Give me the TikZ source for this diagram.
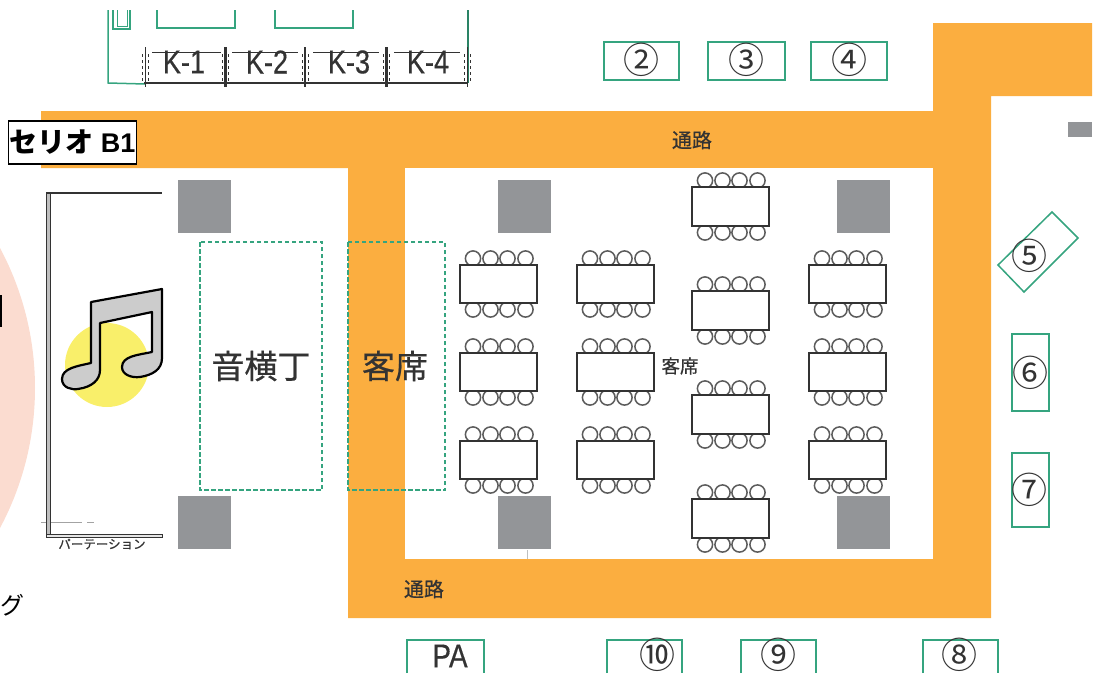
\documentclass[tikz,border=0pt]{standalone}
\usepackage{fontspec}
\setmainfont{Liberation Sans}
\newfontfamily\cjk[FakeBold=0.6]{Noto Sans CJK JP}
\newfontfamily\cjkplain{Noto Sans CJK JP}
\newfontfamily\narrowsans[FakeBold=0.5]{Liberation Sans}
\definecolor{aisle}{HTML}{FBAE40}
\definecolor{pillar}{HTML}{939598}
\definecolor{booth}{HTML}{35A47F}
\definecolor{glow}{HTML}{FBDCD0}
\definecolor{spot}{HTML}{F9EF6A}
\definecolor{ink}{HTML}{333333}
\tikzset{
    boothbox/.style = {draw = booth, line width = 1.5pt},
    dashbox/.style = {draw = booth, line width = 1.1pt, dash pattern = on 4.5pt off 2.5pt},
    boothnum/.style = {font = \cjkplain\fontsize{36}{36}\selectfont, text = ink, inner sep = 0pt},
    cjklabel/.style = {font = \cjk\fontsize{20}{20}\selectfont, text = ink, inner sep = 0pt},
    biglabel/.style = {font = \cjk\fontsize{33}{33}\selectfont, text = ink, inner sep = 0pt},
    klabel/.style = {font = \narrowsans\fontsize{33}{33}\selectfont, text = ink, inner sep = 0pt, xscale = 0.82},
    chair/.style = {draw = ink!80, line width = 1.5pt, fill = white},
    desk/.style = {draw = ink, line width = 1.5pt, fill = white}
}
\begin{document}
\begin{tikzpicture}[x = 1pt, y = -1pt]
    \useasboundingbox (0, 0) rectangle (1099, 673);
    % left side
    \fill[glow] (-262, 388) circle (297);
    \draw[black, line width = 1.6pt] (1, 295) -- (1, 327);
    \node[font = \cjkplain\fontsize{24}{24}\selectfont, inner sep = 0pt, anchor = east] (gu) at (25, 605) {グ};
    % aisles
    \fill[aisle] (41, 111) -- (933, 111) -- (933, 23) -- (1092, 23) -- (1092, 96) -- (991, 96) -- (991, 618) -- (348, 618) -- (348, 168) -- (41, 168) -- cycle;
    \fill[white] (405, 168) rectangle (933, 559);
    \draw[pillar!60, line width = 0.8pt] (527, 550) -- (527, 559);
    \node[cjklabel] (aisletop) at (692, 140) {通路};
    \node[cjklabel] (aislebot) at (424, 589) {通路};
    % title
    \node[draw = black, line width = 1.8pt, fill = white, minimum width = 128pt, minimum height = 43pt, inner sep = 0pt, font = \bfseries\fontsize{27}{27}\selectfont] (title) at (72.5, 142.5) {{\cjkplain\bfseries\fontsize{28}{28}\selectfont セリオ} B1};
    % top area
    \draw[booth, line width = 1.5pt] (108, 10) -- (108, 83) -- (145, 84);
    \draw[booth, line width = 1.4pt] (113, 10) -- (113, 29) -- (130, 29) -- (130, 10);
    \draw[booth, line width = 1pt] (117, 10) -- (117, 26) -- (127, 26) -- (127, 10);
    \draw[booth, line width = 1.4pt] (157, 10) -- (157, 28) -- (235, 28) -- (235, 10);
    \draw[booth, line width = 1.4pt] (275, 10) -- (275, 28) -- (353, 28) -- (353, 10);
    \draw[booth!80!black, line width = 2.6pt] (468, 10) -- (468, 83);
    \draw[ink, line width = 1.3pt] (144, 83) -- (467, 83);
    \foreach \xa/\wid in {145/1, 225/3, 305/1.8, 386/3, 467/1} {
        \draw[ink, line width = \wid pt] (\xa, 47) -- (\xa, 87);
        \draw[ink, line width = 0.7pt, dashed] (\xa + 3, 54) -- (\xa + 3, 82);
        \draw[ink, line width = 0.7pt, dashed] (\xa - 3, 54) -- (\xa - 3, 82);
    }
    \foreach \xa/\xb in {152/221, 232/298, 313/379, 394/460}
        \draw[ink, line width = 1pt] (\xa, 52) -- (\xb, 52);
    \foreach \xa/\num in {184/1, 267/2, 349/3, 428/4}
        \node[klabel] (k\num) at (\xa, 62) {K-\num};
    % pillars
    \foreach \xa/\ya in {178/180, 498/180, 837/180, 178/496, 498/496, 837/496}
        \fill[pillar] (\xa, \ya) rectangle ++(53, 53);
    \fill[pillar] (1068, 122) rectangle (1092, 137);
    % partition
    \draw[ink!45, line width = 0.9pt] (41, 522) -- (82, 522) (87, 522) -- (94, 522);
    \draw[ink, line width = 0.9pt, fill = black!25] (46, 193) rectangle (50, 537);
    \draw[ink, line width = 0.9pt, fill = black!10] (46, 534) rectangle (162, 537);
    \draw[ink, line width = 2pt] (46, 193) -- (162, 193);
    \node[font = \cjk\fontsize{12.5}{12.5}\selectfont, text = ink, inner sep = 0pt] (partition) at (102, 544) {パーテーション};
    % music note
    \fill[spot] (107, 365) circle (42);
    \draw[black, line width = 2.2pt, fill = black!20, line join = round]
        (162, 289) -- (91, 302) -- (91, 363) .. controls (78, 366) and (62, 368) .. (62, 379)
        .. controls (62, 388) and (72, 390) .. (78, 389) .. controls (92, 387) and (100, 380) .. (100, 370)
        -- (100, 323) -- (152, 312) -- (152, 352) .. controls (138, 355) and (122, 356) .. (122, 367)
        .. controls (122, 375) and (132, 378) .. (140, 377) .. controls (152, 375) and (162, 370) .. (162, 358) -- cycle;
    % green areas
    \draw[dashbox] (200, 242) rectangle (322, 490);
    \draw[dashbox] (348, 242) rectangle (445, 490);
    \node[biglabel] (audio) at (261, 366) {音横丁};
    \node[biglabel] (seatbig) at (395, 366) {客席};
    \node[cjklabel, font = \cjk\fontsize{18.5}{18.5}\selectfont] (seatsmall) at (680, 366) {客席};
    % tables
    \foreach \xa/\ya/\ha in {498.5/265/38, 498.5/353/38, 498.5/441/38,
                             615.5/265/38, 615.5/353/38, 615.5/441/38,
                             730.5/187/39, 730.5/291/39, 730.5/395/39, 730.5/499/39,
                             847.5/265/38, 847.5/353/38, 847.5/441/38} {
        \foreach \dx in {-25.5, -8, 9, 27} {
            \draw[chair] (\xa + \dx, \ya - 6.5) circle (7.6);
            \draw[chair] (\xa + \dx, \ya + \ha + 6.5) circle (7.6);
        }
        \draw[desk] (\xa - 38.5, \ya) rectangle ++(77, \ha);
    }
    % booths
    \foreach \xa/\xb/\num/\lab in {604/679/2/②, 708/785/3/③, 811/887/4/④} {
        \draw[boothbox] (\xa, 42) rectangle (\xb, 80);
        \node[boothnum] (b\num) at ({(\xa + \xb) / 2}, 60) {\lab};
    }
    \draw[boothbox] (1052, 212) -- (1078, 238) -- (1024, 292) -- (998, 265) -- cycle;
    \node[boothnum] (b5) at (1029, 256) {⑤};
    \draw[boothbox] (1012, 334) rectangle (1049, 411);
    \node[boothnum] (b6) at (1030, 373) {⑥};
    \draw[boothbox] (1012, 453) rectangle (1049, 527);
    \node[boothnum] (b7) at (1029, 490) {⑦};
    \foreach \xa/\xb/\num/\lab/\xt in {923/998/8/⑧/959, 741/816/9/⑨/778, 607/682/10/⑩/657} {
        \draw[boothbox] (\xa, 673) -- (\xa, 640) -- (\xb, 640) -- (\xb, 673);
        \node[boothnum] (b\num) at (\xt, 655) {\lab};
    }
    \draw[boothbox] (407, 673) -- (407, 640) -- (484, 640) -- (484, 673);
    \node[font = \narrowsans\fontsize{33}{33}\selectfont, text = ink, inner sep = 0pt, xscale = 0.85] (pa) at (450, 656) {PA};
\end{tikzpicture}
\end{document}
